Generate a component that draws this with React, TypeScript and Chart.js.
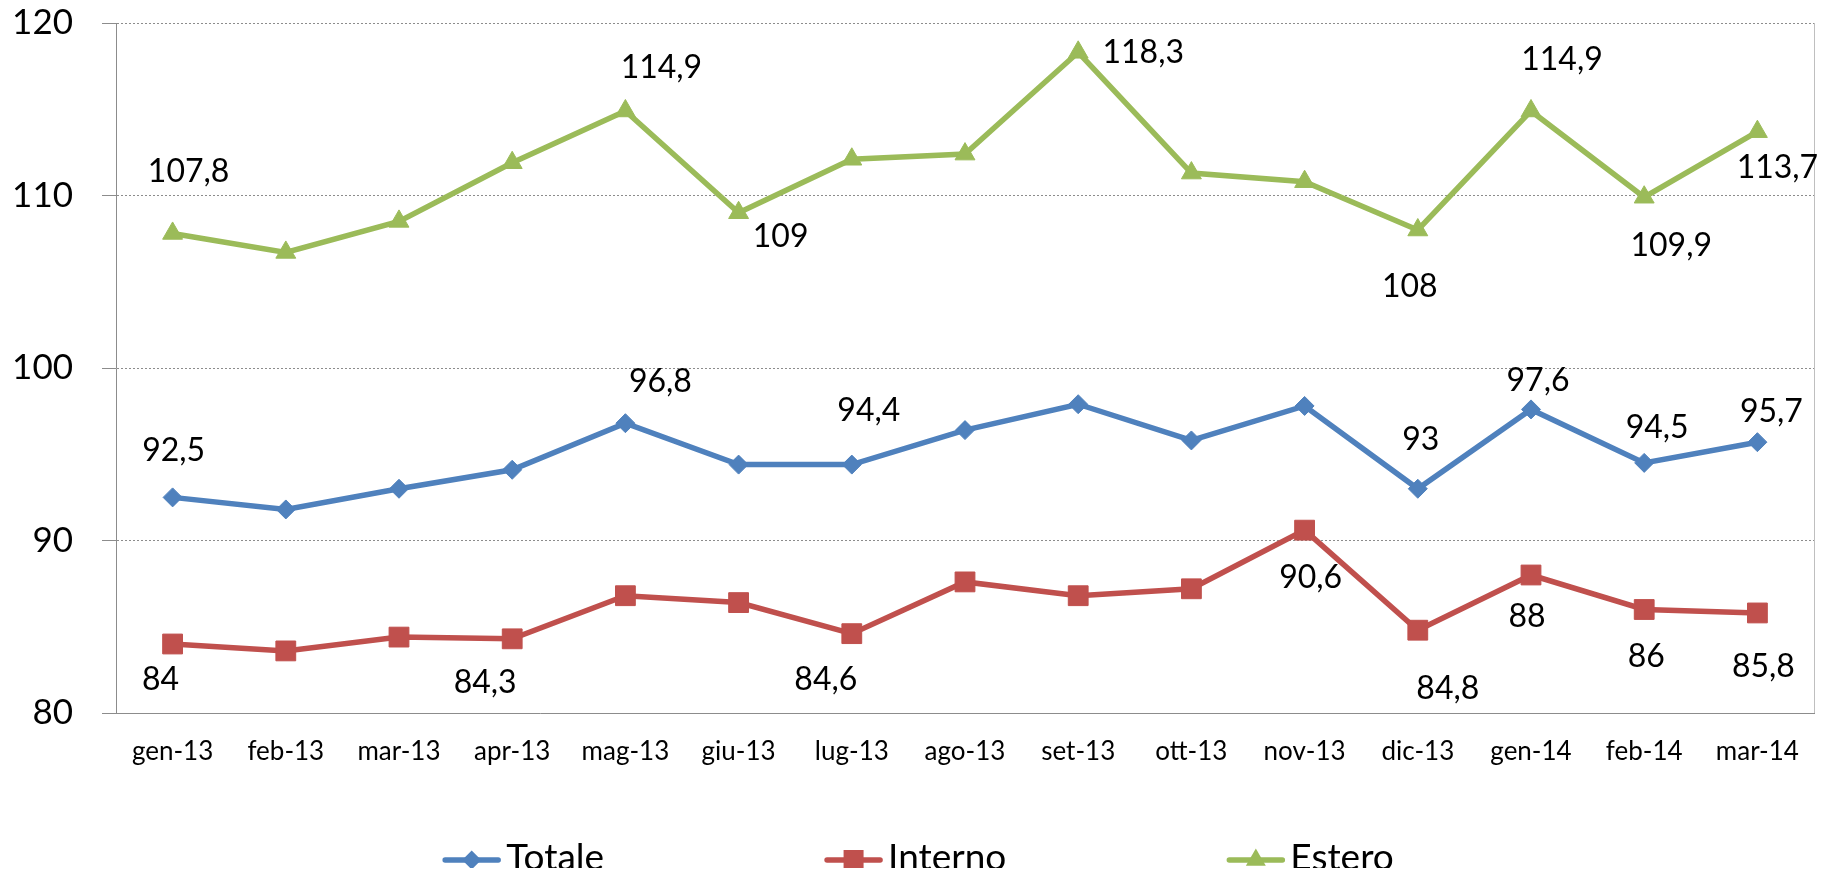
import React, { useEffect, useRef } from "react";
import { Chart, registerables } from "chart.js";

Chart.register(...registerables);

// ---- data ----
const months = [
  "gen-13", "feb-13", "mar-13", "apr-13", "mag-13", "giu-13", "lug-13", "ago-13",
  "set-13", "ott-13", "nov-13", "dic-13", "gen-14", "feb-14", "mar-14",
];
const totale = [92.5, 91.8, 93.0, 94.1, 96.8, 94.4, 94.4, 96.4, 97.9, 95.8, 97.8, 93.0, 97.6, 94.5, 95.7];
const interno = [84.0, 83.6, 84.4, 84.3, 86.8, 86.4, 84.6, 87.6, 86.8, 87.2, 90.6, 84.8, 88.0, 86.0, 85.8];
const estero = [107.8, 106.7, 108.5, 111.9, 114.9, 109.0, 112.1, 112.4, 118.3, 111.3, 110.8, 108.0, 114.9, 109.9, 113.7];
const yTicks = [80, 90, 100, 110, 120];

// ---- which points carry a value label, and the label's offset from its point (px) ----
type Off = [number, number] | null;
const totaleLabelOffsets: Off[] = [
  [1, -47], null, null, null, [35, -42], null, [17, -54], null,
  null, null, null, [3, -49], [7, -29], [13, -35], [14, -30],
];
const internoLabelOffsets: Off[] = [
  [-12, 36], null, null, [-27, 44], null, null, [-26, 46], null,
  null, null, [6, 48], [30, 58], [-4, 42], [2, 47], [6, 54],
];
const esteroLabelOffsets: Off[] = [
  [16, -62], null, null, null, [36, -43], [42, 24], null, null,
  [65, 0], null, null, [-8, 57], [31, -51], [27, 48], [20, 36],
];

// ---- styles ----
const BLUE = "#4F81BD";
const RED = "#C0504D";
const GREEN = "#9BBB59";
const FONT = "Lato, 'Open Sans', sans-serif";

const labelOffsets = [totaleLabelOffsets, internoLabelOffsets, esteroLabelOffsets];

const fmt = (v: number) => String(v).replace(".", ",");

function drawMarker(ctx: CanvasRenderingContext2D, style: string, x: number, y: number, color: string) {
  ctx.fillStyle = color;
  ctx.beginPath();
  if (style === "rectRot") {
    const r = 9.5;
    ctx.moveTo(x - r, y);
    ctx.lineTo(x, y - r);
    ctx.lineTo(x + r, y);
    ctx.lineTo(x, y + r);
  } else if (style === "rect") {
    const h = 10;
    ctx.rect(x - h, y - h, 2 * h, 2 * h);
  } else {
    const r = 11.5;
    for (let k = 0; k < 3; k++) {
      const a = -Math.PI / 2 + (k * 2 * Math.PI) / 3;
      const px = x + Math.cos(a) * r;
      const py = y + Math.sin(a) * r;
      if (k === 0) ctx.moveTo(px, py);
      else ctx.lineTo(px, py);
    }
  }
  ctx.closePath();
  ctx.fill();
}

const valueLabels = {
  id: "valueLabels",
  afterDatasetsDraw(chart: any) {
    const ctx = chart.ctx as CanvasRenderingContext2D;
    ctx.save();
    ctx.font = `32px ${FONT}`;
    ctx.fillStyle = "#000";
    ctx.textAlign = "center";
    ctx.textBaseline = "middle";
    chart.data.datasets.forEach((ds: any, i: number) => {
      const offs = labelOffsets[i];
      const meta = chart.getDatasetMeta(i);
      meta.data.forEach((pt: any, j: number) => {
        const o = offs[j];
        if (!o) return;
        ctx.fillText(fmt(ds.data[j]), pt.x + o[0], pt.y + o[1]);
      });
    });
    ctx.restore();
  },
};

const frameRight = {
  id: "frameRight",
  beforeDatasetsDraw(chart: any) {
    const { ctx, chartArea } = chart;
    ctx.save();
    ctx.strokeStyle = "#BFBFBF";
    ctx.lineWidth = 1;
    ctx.beginPath();
    ctx.moveTo(chartArea.right + 0.5, chartArea.top);
    ctx.lineTo(chartArea.right + 0.5, chartArea.bottom);
    ctx.stroke();
    ctx.restore();
  },
};

const bottomLegend = {
  id: "bottomLegend",
  afterDraw(chart: any) {
    const ctx = chart.ctx as CanvasRenderingContext2D;
    ctx.save();
    ctx.font = `37px ${FONT}`;
    const lineLen = 57;
    const textGap = 6;
    const itemGap = 221;
    const items = chart.data.datasets.map((ds: any) => ({
      ds,
      w: lineLen + textGap + ctx.measureText(ds.label).width,
    }));
    const total = items.reduce((s: number, it: any) => s + it.w, 0) + itemGap * (items.length - 1);
    let x = chart.width / 2 - total / 2;
    const yLine = chart.height - 16;
    const yBase = chart.height - 6;
    items.forEach((it: any) => {
      const ds = it.ds;
      ctx.strokeStyle = ds.borderColor;
      ctx.lineWidth = 5.5;
      ctx.lineCap = "round";
      ctx.beginPath();
      ctx.moveTo(x + 2, yLine);
      ctx.lineTo(x + lineLen - 2, yLine);
      ctx.stroke();
      drawMarker(ctx, ds.pointStyle, x + lineLen / 2, yLine, ds.borderColor);
      ctx.fillStyle = "#000";
      ctx.textAlign = "left";
      ctx.textBaseline = "alphabetic";
      ctx.fillText(ds.label, x + lineLen + textGap, yBase);
      x += it.w + itemGap;
    });
    ctx.restore();
  },
};

export default function App() {
  const ref = useRef<HTMLCanvasElement | null>(null);

  useEffect(() => {
    if (!ref.current) return;
    const mk = (label: string, data: number[], color: string, pointStyle: string, radius: number) => ({
      label,
      data,
      borderColor: color,
      backgroundColor: color,
      pointBackgroundColor: color,
      pointBorderColor: color,
      pointBorderWidth: 1,
      pointStyle,
      pointRadius: radius,
      borderWidth: 5.5,
      tension: 0,
      fill: false,
    });
    const chart = new Chart(ref.current, {
      type: "line",
      data: {
        labels: months,
        datasets: [
          mk("Totale", totale, BLUE, "rectRot", 9.5),
          mk("Interno", interno, RED, "rect", 14),
          mk("Estero", estero, GREEN, "triangle", 11.5),
        ] as any,
      },
      options: {
        animation: false,
        responsive: true,
        maintainAspectRatio: false,
        layout: { padding: { top: 15, left: 0, right: 11, bottom: 103 } },
        plugins: {
          legend: { display: false },
          tooltip: { enabled: false },
        },
        scales: {
          x: {
            offset: true,
            grid: { display: false, drawTicks: false },
            border: { display: true, color: "#8C8C8C", width: 1 },
            ticks: {
              autoSkip: false,
              maxRotation: 0,
              color: "#000",
              padding: 23,
              font: { family: FONT, size: 26, lineHeight: 1.2 },
            },
            afterFit: (s: any) => {
              s.height = 60;
            },
          },
          y: {
            min: 80,
            max: 120,
            afterBuildTicks: (s: any) => {
              s.ticks = yTicks.map((v) => ({ value: v }));
            },
            grid: {
              color: "#8C8C8C",
              lineWidth: 1,
              drawTicks: true,
              tickLength: 14,
              tickColor: "#8C8C8C",
            },
            border: { display: true, color: "#8C8C8C", width: 1, dash: [2, 2] },
            ticks: {
              color: "#000",
              padding: 29,
              font: { family: FONT, size: 35 },
            },
            afterFit: (s: any) => {
              s.width = 108;
              s.paddingTop = 0;
              s.paddingBottom = 0;
            },
          },
        },
      },
      plugins: [frameRight, valueLabels, bottomLegend],
    });
    return () => chart.destroy();
  }, []);

  return (
    <div style={{ position: "relative", width: 1821, height: 868, marginBottom: -8 }}>
      <canvas ref={ref} />
    </div>
  );
}
